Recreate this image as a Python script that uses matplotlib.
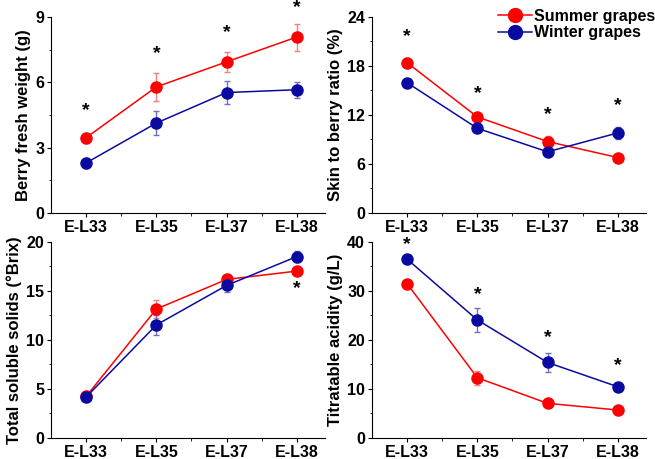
import numpy as np
import matplotlib.pyplot as plt
from matplotlib.lines import Line2D
from matplotlib.ticker import MultipleLocator

plt.rcParams["font.family"] = ["Liberation Sans", "DejaVu Sans"]
plt.rcParams["font.weight"] = "bold"

stages = ["E-L33", "E-L35", "E-L37", "E-L38"]

# Berry fresh weight (g)
bw_summer = [3.46, 5.79, 6.94, 8.08]
bw_summer_err = [0.23, 0.65, 0.45, 0.62]
bw_winter = [2.30, 4.13, 5.53, 5.66]
bw_winter_err = [0.23, 0.54, 0.53, 0.37]
bw_stars = [4.7, 7.3, 8.3, 9.45]

# Skin to berry ratio (%)
sb_summer = [18.4, 11.76, 8.75, 6.79]
sb_summer_err = [0.6, 0.3, 0.65, 0.3]
sb_winter = [15.95, 10.37, 7.49, 9.80]
sb_winter_err = [0.5, 0.3, 0.3, 0.77]
sb_stars = [21.6, 14.6, 12.0, 13.2]

# Total soluble solids (°Brix)
tss_summer = [4.24, 13.15, 16.17, 17.02]
tss_summer_err = [0.3, 0.93, 0.3, 0.3]
tss_winter = [4.17, 11.53, 15.56, 18.5]
tss_winter_err = [0.3, 1.0, 0.7, 0.55]
tss_stars = [None, None, None, 15.2]

# Titratable acidity (g/L)
ta_summer = [31.46, 12.27, 7.05, 5.69]
ta_summer_err = [0.3, 1.4, 0.3, 0.3]
ta_winter = [36.47, 24.07, 15.39, 10.44]
ta_winter_err = [0.5, 2.4, 1.9, 0.4]
ta_stars = [39.5, 29.2, 20.4, 14.8]

RED = "#ff0000"
BLUE = "#0a0aa0"

panels = [
    ([0.078, 0.536, 0.418, 0.427], bw_summer, bw_summer_err, bw_winter, bw_winter_err,
     bw_stars, 9, 3, "Berry fresh weight (g)"),
    ([0.568, 0.536, 0.418, 0.427], sb_summer, sb_summer_err, sb_winter, sb_winter_err,
     sb_stars, 24, 6, "Skin to berry ratio (%)"),
    ([0.078, 0.046, 0.418, 0.427], tss_summer, tss_summer_err, tss_winter, tss_winter_err,
     tss_stars, 20, 5, "Total soluble solids (°Brix)"),
    ([0.568, 0.046, 0.418, 0.427], ta_summer, ta_summer_err, ta_winter, ta_winter_err,
     ta_stars, 40, 10, "Titratable acidity (g/L)"),
]

fig = plt.figure(figsize=(6.55, 4.59), dpi=100)
x = np.arange(1, len(stages) + 1)

for i, (pos, s, se, w, we, stars, ymax, step, ylabel) in enumerate(panels):
    ax = fig.add_axes(pos)
    ax.errorbar(x, s, yerr=se, color=RED, ecolor="#f08080", elinewidth=1, capsize=2,
                marker="o", markersize=8, lw=1.1, zorder=3)
    ax.errorbar(x, w, yerr=we, color=BLUE, ecolor="#7070c0", elinewidth=1, capsize=2,
                marker="o", markersize=8, lw=1.1, zorder=3)
    for xi, st in zip(x, stars):
        if st is not None:
            ax.text(xi, st, "*", ha="center", va="center", fontsize=14,
                    fontweight="bold", clip_on=False)
    ax.set_xlim(0.5, 4.4)
    ax.set_ylim(0, ymax)
    ax.set_xticks(x)
    ax.set_xticklabels(stages)
    ax.set_xticks([1.5, 2.5, 3.5], minor=True)
    ax.yaxis.set_major_locator(MultipleLocator(step))
    ax.yaxis.set_minor_locator(MultipleLocator(step / 2))
    ax.spines["top"].set_visible(False)
    ax.spines["right"].set_visible(False)
    ax.tick_params(axis="both", which="major", labelsize=11.5, length=3, pad=2,
                   direction="out")
    ax.tick_params(axis="both", which="minor", length=1.8, direction="out")
    ax.set_ylabel(ylabel, fontsize=12, fontweight="bold", labelpad=3)
    if i == 1:
        handles = [
            Line2D([], [], color=RED, marker="o", markersize=10, lw=1.1),
            Line2D([], [], color=BLUE, marker="o", markersize=10, lw=1.1),
        ]
        ax.legend(handles, ["Summer grapes", "Winter grapes"], loc="upper right",
                  bbox_to_anchor=(1.075, 1.1), frameon=False, fontsize=11.5,
                  handlelength=2.1, handletextpad=0.15, labelspacing=0.12,
                  borderpad=0.2)

plt.savefig("out.png", dpi=100)
plt.close()
